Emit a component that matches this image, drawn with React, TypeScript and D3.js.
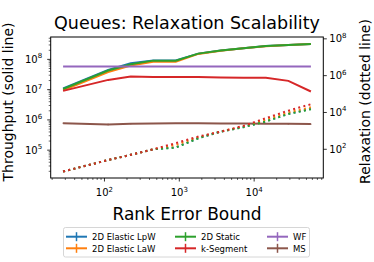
import React, { useRef, useEffect } from "react";
import * as d3 from "d3";

// rank error bounds (x)
const rankBounds = [28, 112, 224, 448, 896, 1792, 3584, 7168, 14336, 28672, 57344];

// throughput (solid, left axis)
const tputLpW = [1.1e7, 4.5e7, 7.4e7, 9.2e7, 9.2e7, 1.55e8, 1.95e8, 2.35e8, 2.75e8, 3.0e8, 3.25e8];
const tputLaW = [9.5e6, 3.8e7, 6.3e7, 8.3e7, 8.3e7, 1.52e8, 1.93e8, 2.33e8, 2.72e8, 3.0e8, 3.2e8];
const tputStatic = [1.05e7, 4.3e7, 6.9e7, 9.1e7, 9.1e7, 1.55e8, 1.95e8, 2.35e8, 2.75e8, 3.0e8, 3.25e8];
const tputKSeg = [9.1e6, 2.1e7, 2.7e7, 2.6e7, 2.6e7, 2.6e7, 2.5e7, 2.45e7, 2.45e7, 1.95e7, 8.7e6];
const tputWF = [5.8e7, 5.8e7, 5.8e7, 5.8e7, 5.8e7, 5.8e7, 5.8e7, 5.8e7, 5.8e7, 5.8e7, 5.8e7];
const tputMS = [7.8e5, 7.1e5, 7.5e5, 7.6e5, 7.7e5, 7.7e5, 7.6e5, 7.6e5, 7.5e5, 7.4e5, 7.3e5];
const errMS = [2e4, 4e4, 3e4, 2e4, 2e4, 2e4, 2e4, 2e4, 2e4, 3e4, 2e4];

// relaxation (dotted, right axis)
const relaxLpW = [6.2, 26, 50, 100, 125, 400, 910, 1600, 3300, 8400, 15500];
const relaxLaW = [6.2, 26, 50, 100, 170, 450, 920, 1750, 4000, 10000, 19000];
const relaxStatic = [6.2, 26, 50, 100, 123, 400, 910, 1580, 3240, 8300, 15100];
const relaxKSeg = [6.2, 26, 50, 100, 215, 490, 910, 1860, 4900, 12600, 28000];

const seriesNames = ["2D Elastic LpW", "2D Elastic LaW", "2D Static", "k-Segment", "WF", "MS"];
const seriesColors = ["#1f77b4", "#ff7f0e", "#2ca02c", "#d62728", "#9467bd", "#8c564b"];

const xTicks = [1e2, 1e3, 1e4];
const leftTicks = [1e5, 1e6, 1e7, 1e8];
const rightTicks = [1e2, 1e4, 1e6, 1e8];

const W = 374, H = 262;
const M = { left: 50.7, right: 323.3, top: 37, bottom: 178 };
const FONT = "DejaVu Sans, sans-serif";

export default function App() {
  const svgRef = useRef<SVGSVGElement>(null);

  useEffect(() => {
    const svg = d3.select(svgRef.current);
    svg.selectAll("*").remove();

    const lx0 = Math.log10(d3.min(rankBounds)!), lx1 = Math.log10(d3.max(rankBounds)!);
    const pad = (lx1 - lx0) * 0.05;
    const x = d3.scaleLog().domain([10 ** (lx0 - pad), 10 ** (lx1 + pad)]).range([M.left, M.right]);
    const yL = d3.scaleLog().domain([10 ** 4.08, 10 ** 8.74]).range([M.bottom, M.top]);
    const yR = d3.scaleLog().domain([10 ** 0.44, 10 ** 8.1]).range([M.bottom, M.top]);

    svg.append("rect").attr("width", W).attr("height", H).attr("fill", "white");

    const clip = svg.append("defs").append("clipPath").attr("id", "plotclip");
    clip.append("rect").attr("x", M.left).attr("y", M.top)
      .attr("width", M.right - M.left).attr("height", M.bottom - M.top);

    const plot = svg.append("g").attr("clip-path", "url(#plotclip)");

    const solid = [tputLpW, tputLaW, tputStatic, tputKSeg, tputWF, tputMS];
    const dotted = [relaxLpW, relaxLaW, relaxStatic, relaxKSeg];

    const lineL = d3.line<number>().x((_, i) => x(rankBounds[i])).y(d => yL(d));
    const lineR = d3.line<number>().x((_, i) => x(rankBounds[i])).y(d => yR(d));

    solid.forEach((vals, k) => {
      plot.append("path").attr("d", lineL(vals)!).attr("fill", "none")
        .attr("stroke", seriesColors[k]).attr("stroke-width", 2);
    });
    // error bars for MS
    plot.append("g").selectAll("line").data(tputMS).join("line")
      .attr("x1", (_, i) => x(rankBounds[i])).attr("x2", (_, i) => x(rankBounds[i]))
      .attr("y1", (d, i) => yL(d - errMS[i])).attr("y2", (d, i) => yL(d + errMS[i]))
      .attr("stroke", seriesColors[5]).attr("stroke-width", 1.5);

    dotted.forEach((vals, k) => {
      plot.append("path").attr("d", lineR(vals)!).attr("fill", "none")
        .attr("stroke", seriesColors[k]).attr("stroke-width", 2)
        .attr("stroke-dasharray", "2 3.3");
    });

    // frame
    svg.append("rect").attr("x", M.left).attr("y", M.top)
      .attr("width", M.right - M.left).attr("height", M.bottom - M.top)
      .attr("fill", "none").attr("stroke", "black").attr("stroke-width", 1);

    const sup = (g: any, base: number, exp: number, anchor: string, xx: number, yy: number) => {
      const t = g.append("text").attr("x", xx).attr("y", yy).attr("text-anchor", anchor)
        .attr("font-family", FONT).attr("font-size", 10).attr("fill", "black");
      t.append("tspan").text(String(base));
      t.append("tspan").attr("dy", -4.5).attr("font-size", 7).text(String(exp));
    };

    const ax = svg.append("g");
    // x ticks (major + minor)
    const [xa, xb] = x.domain();
    for (let e = Math.floor(Math.log10(xa)); e <= Math.ceil(Math.log10(xb)); e++) {
      for (let m = 1; m < 10; m++) {
        const v = m * 10 ** e;
        if (v < xa || v > xb) continue;
        const major = m === 1;
        ax.append("line").attr("x1", x(v)).attr("x2", x(v))
          .attr("y1", M.bottom).attr("y2", M.bottom + (major ? 3.5 : 2))
          .attr("stroke", "black").attr("stroke-width", major ? 0.8 : 0.6);
      }
    }
    xTicks.forEach(v => sup(ax, 10, Math.log10(v), "middle", x(v), 196));

    // left y ticks
    const [la, lb] = yL.domain();
    for (let e = Math.floor(Math.log10(la)); e <= Math.ceil(Math.log10(lb)); e++) {
      for (let m = 1; m < 10; m++) {
        const v = m * 10 ** e;
        if (v < la || v > lb) continue;
        const major = m === 1;
        ax.append("line").attr("x1", M.left).attr("x2", M.left - (major ? 3.5 : 2))
          .attr("y1", yL(v)).attr("y2", yL(v))
          .attr("stroke", "black").attr("stroke-width", major ? 0.8 : 0.6);
      }
    }
    leftTicks.forEach(v => sup(ax, 10, Math.log10(v), "end", M.left - 8.5, yL(v) + 3.5));

    // right y ticks
    rightTicks.forEach(v => {
      ax.append("line").attr("x1", M.right).attr("x2", M.right + 3.5)
        .attr("y1", yR(v)).attr("y2", yR(v)).attr("stroke", "black").attr("stroke-width", 0.8);
      sup(ax, 10, Math.log10(v), "start", M.right + 6, yR(v) + 3.5);
    });

    // title & labels
    svg.append("text").attr("x", (M.left + M.right) / 2).attr("y", 28.5)
      .attr("text-anchor", "middle").attr("font-family", FONT).attr("font-size", 17.5)
      .text("Queues: Relaxation Scalability");
    svg.append("text").attr("x", 187).attr("y", 219.5)
      .attr("text-anchor", "middle").attr("font-family", FONT).attr("font-size", 17)
      .text("Rank Error Bound");
    svg.append("text").attr("transform", `translate(12.5,102) rotate(-90)`)
      .attr("text-anchor", "middle").attr("font-family", FONT).attr("font-size", 14)
      .text("Throughput (solid line)");
    svg.append("text").attr("transform", `translate(370,101.5) rotate(-90)`)
      .attr("text-anchor", "middle").attr("font-family", FONT).attr("font-size", 14)
      .text("Relaxation (dotted line)");

    // legend
    const lg = svg.append("g");
    lg.append("rect").attr("x", 63.5).attr("y", 227.5).attr("width", 246).attr("height", 29.5)
      .attr("rx", 2).attr("fill", "white").attr("stroke", "#cccccc").attr("stroke-width", 0.8);
    const colX = [66, 175, 267];
    const rowY = [236.7, 248.3];
    seriesNames.forEach((name, i) => {
      const cx = colX[Math.floor(i / 2)], cy = rowY[i % 2];
      lg.append("line").attr("x1", cx).attr("x2", cx + 21).attr("y1", cy).attr("y2", cy)
        .attr("stroke", seriesColors[i]).attr("stroke-width", 2);
      lg.append("line").attr("x1", cx + 10.5).attr("x2", cx + 10.5).attr("y1", cy - 4.5).attr("y2", cy + 4.5)
        .attr("stroke", seriesColors[i]).attr("stroke-width", 1.5);
      lg.append("text").attr("x", cx + 26).attr("y", cy + 3.2)
        .attr("font-family", FONT).attr("font-size", 8.5).text(name);
    });
  }, []);

  return <svg ref={svgRef} width={W} height={H} style={{ position: "absolute", left: 0, top: 0 }} />;
}
